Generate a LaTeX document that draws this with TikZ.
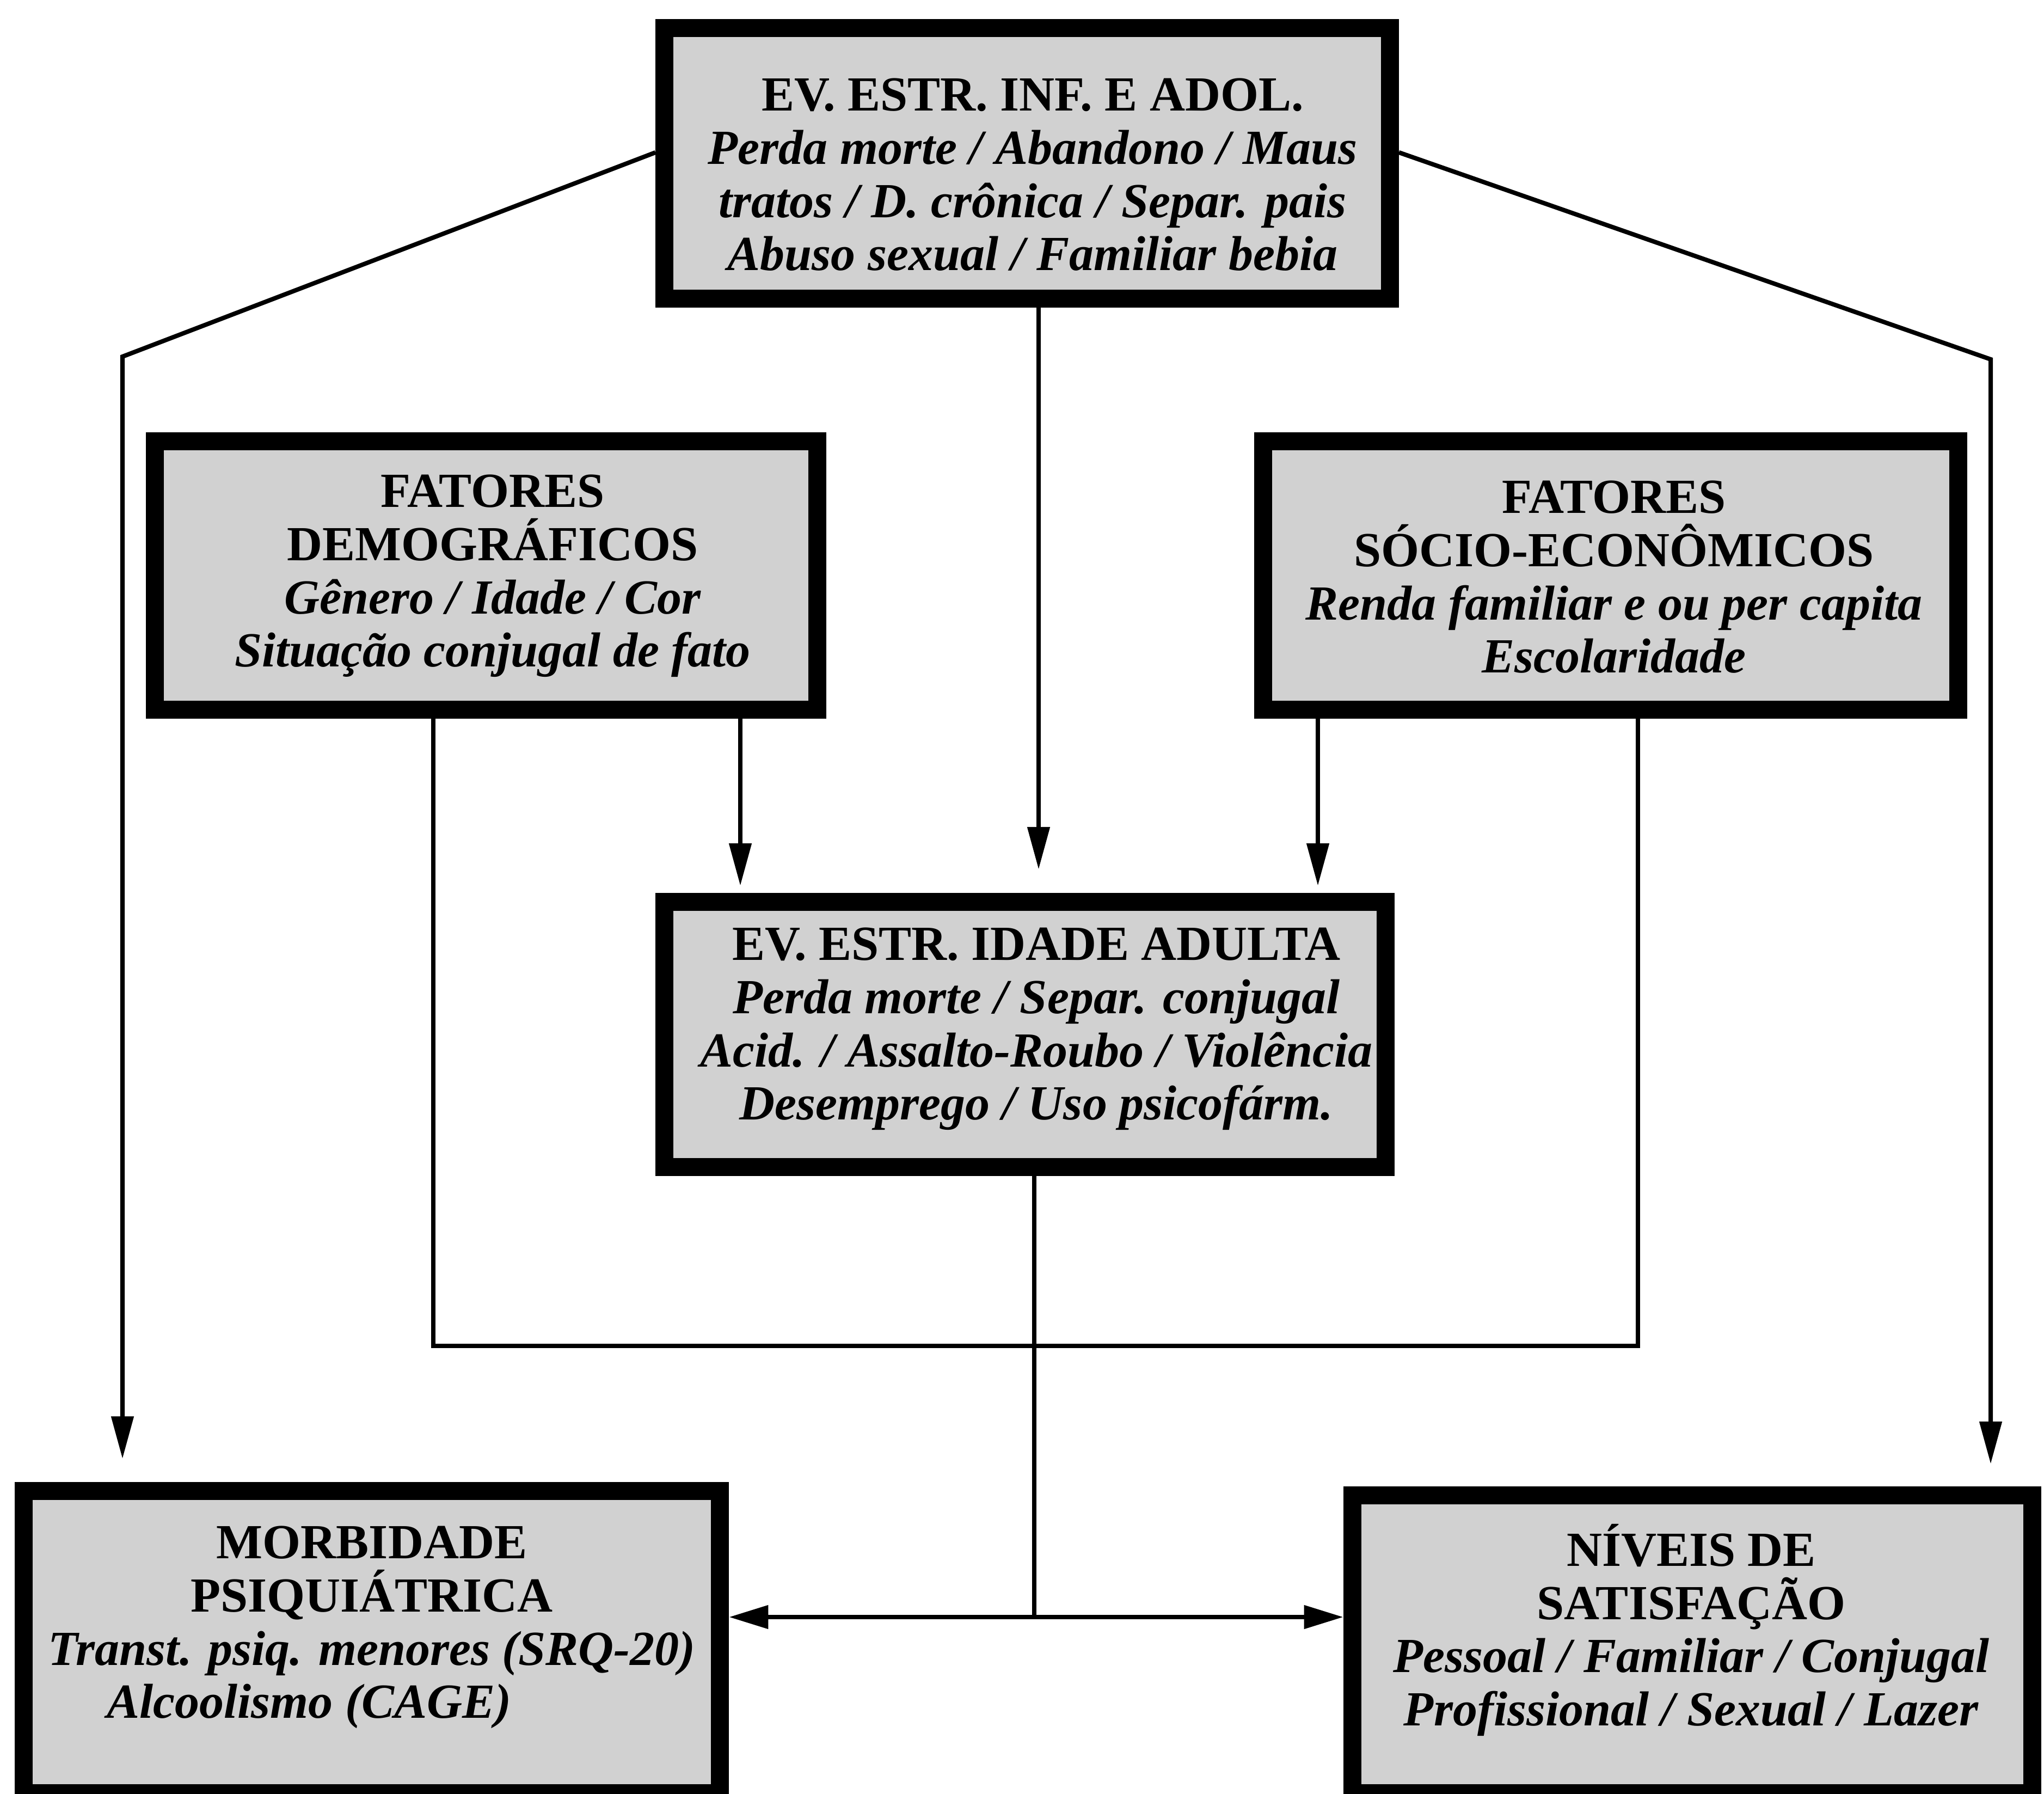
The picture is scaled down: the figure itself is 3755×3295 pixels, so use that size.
\documentclass[tikz,border=0pt]{standalone}
\usepackage{fontspec}
\setmainfont{Liberation Serif}
\usetikzlibrary{arrows.meta}
\begin{document}
\begin{tikzpicture}[x=0.01cm,y=-0.01cm,
  box/.style={draw=black, line width=0.33cm, fill=black!18, inner sep=0pt},
  txt/.style={align=center, inner sep=0pt, font=\fontsize{25.6pt}{27.75pt}\selectfont\bfseries},
  conn/.style={line width=2.3pt},
  tip/.style={-{Triangle[length=0.78cm,width=0.40cm]}},
  dtip/.style={{Triangle[length=0.72cm,width=0.42cm]}-{Triangle[length=0.72cm,width=0.42cm]}}]
\useasboundingbox (0,0) rectangle (3755,3295);

% boxes
\node[box, minimum width=13.32cm, minimum height=4.96cm] (top) at (1887,300) {};
\node[box, minimum width=12.17cm, minimum height=4.92cm] (demo) at (893,1057) {};
\node[box, minimum width=12.77cm, minimum height=4.92cm] (socio) at (2959,1057) {};
\node[box, minimum width=13.24cm, minimum height=4.87cm] (adult) at (1883,1900) {};
\node[box, minimum width=12.79cm, minimum height=5.54cm] (morb) at (683,3016) {};
\node[box, minimum width=12.49cm, minimum height=5.47cm] (niveis) at (3109,3020) {};

% texts
\node[txt] (topT) at (1897,321) {EV. ESTR. INF. E ADOL.\\ \textit{Perda morte / Abandono / Maus}\\ \textit{tratos / D. crônica / Separ. pais}\\ \textit{Abuso sexual / Familiar bebia}};
\node[txt] (demoT) at (905,1058) {FATORES\\ DEMOGRÁFICOS\\ \textit{Gênero / Idade / Cor}\\ \textit{Situação conjugal de fato}};
\node[txt] (socioT) at (2965,1060) {FATORES\\ SÓCIO-ECONÔMICOS\\ \textit{Renda familiar e ou per capita}\\ \textit{Escolaridade}};
\node[txt] (adultT) at (1904,1890) {EV. ESTR. IDADE ADULTA\\ \textit{Perda morte / Separ. conjugal}\\ \textit{Acid. / Assalto-Roubo / Violência}\\ \textit{Desemprego / Uso psicofárm.}};
\node[txt] (morbT) at (683,2989) {MORBIDADE\\ PSIQUIÁTRICA\\ \textit{Transt. psiq. menores (SRQ-20)}\\ \textit{Alcoolismo (CAGE)}\hspace*{2.3cm}};
\node[txt] (niveisT) at (3107,2994) {NÍVEIS DE\\ SATISFAÇÃO\\ \textit{Pessoal / Familiar / Conjugal}\\ \textit{Profissional / Sexual / Lazer}};

% helper coordinates
\coordinate (lc) at (225,655);
\coordinate (rc) at (3657,660);
\coordinate (xa) at (1908,0);
\coordinate (xb) at (1360,0);
\coordinate (xc) at (2421,0);
\coordinate (xl) at (796,2472);
\coordinate (xr) at (3009,2472);
\coordinate (j) at (1900,2970);

% connectors
\draw[conn,tip,shorten >=0.43cm] ([yshift=0.2cm]top.west) -- (lc) -- (lc |- morb.north);
\draw[conn,tip,shorten >=0.41cm] ([yshift=0.2cm]top.east) -- (rc) -- (rc |- niveis.north);
\draw[conn,tip,shorten >=0.43cm] (top.south -| xa) -- (adult.north -| xa);
\draw[conn,tip,shorten >=0.13cm] (demo.south -| xb) -- (adult.north -| xb);
\draw[conn,tip,shorten >=0.13cm] (socio.south -| xc) -- (adult.north -| xc);
\draw[conn] (demo.south -| xl) -- (xl) -- (xr) -- (socio.south -| xr);
\draw[conn] (adult.south -| j) -- (j);
\draw[conn,dtip] (morb.east |- j) -- (niveis.west |- j);
\end{tikzpicture}
\end{document}
